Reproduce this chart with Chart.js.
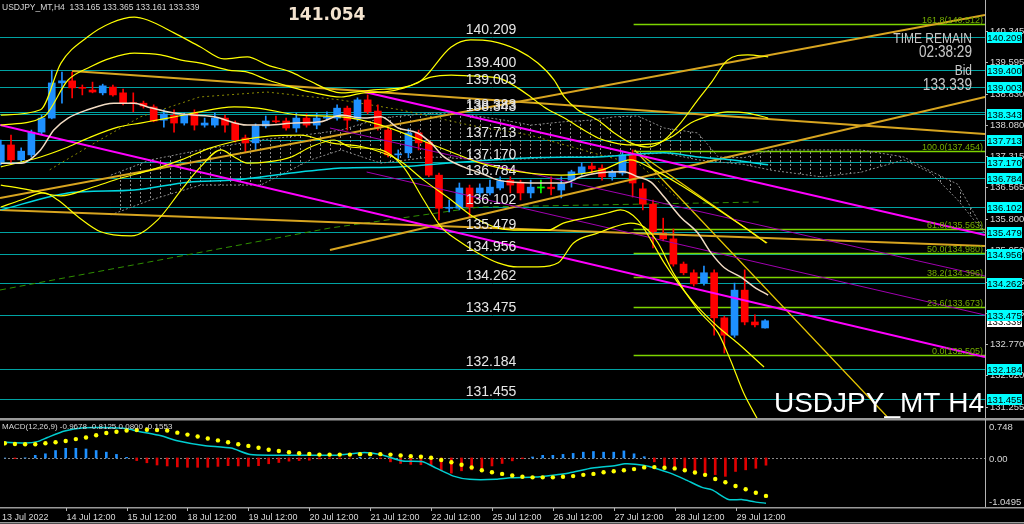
<!DOCTYPE html>
<html>
<head>
<meta charset="utf-8">
<script src="https://cdn.jsdelivr.net/npm/chart.js@4.4.1/dist/chart.umd.min.js"></script>
<style>
html, body { margin: 0; padding: 0; background: #000; overflow: hidden; }
#wrap { position: relative; width: 1024px; height: 524px; background: #000; }
#main { position: absolute; left: 0; top: 0; }
#macd { position: absolute; left: 0; top: 419px; }
</style>
</head>
<body>
<div id="wrap">
  <canvas id="main" width="1024" height="419"></canvas>
  <canvas id="macd" width="1024" height="105"></canvas>
</div>
<script>
// --- candles (H4) ---
const opens  = [137.18,137.59,137.23,137.35,137.90,138.24,139.09,139.14,138.97,138.92,138.85,138.99,138.85,138.60,138.60,138.51,138.19,138.31,138.12,138.36,
                138.07,138.07,138.24,138.12,137.76,137.64,138.05,138.17,138.17,138.00,138.24,138.07,138.24,138.24,138.48,138.22,138.68,138.41,137.95,137.35,
                137.40,137.88,137.66,136.86,136.06,136.06,136.55,136.43,136.43,136.55,136.74,136.67,136.43,136.55,136.57,136.50,136.74,136.91,137.08,137.03,
                136.82,136.91,137.35,136.53,136.16,135.46,135.32,134.71,134.50,134.25,134.50,133.41,132.99,134.08,133.31,133.165];
const highs  = [137.71,137.83,137.52,137.95,138.31,139.40,139.35,139.35,139.04,139.11,139.06,139.04,138.94,138.85,138.65,138.56,138.44,138.44,138.36,138.44,
                138.24,138.36,138.31,138.17,137.83,138.10,138.29,138.29,138.24,138.36,138.34,138.36,138.39,138.56,138.53,138.73,138.80,138.56,138.00,137.47,
                137.98,137.95,137.71,136.91,136.26,136.67,136.62,136.65,136.74,136.82,136.82,136.74,136.74,136.74,136.82,136.82,136.98,137.16,137.16,137.11,
                136.98,137.42,137.47,136.67,136.26,135.82,135.56,134.76,134.57,134.66,134.57,133.45,134.25,134.57,133.48,133.365];
const lows   = [137.11,137.16,137.18,137.30,137.85,138.22,138.60,138.73,138.80,138.85,138.80,138.77,138.56,138.39,138.48,138.15,138.02,137.90,138.07,137.95,
                138.02,138.02,137.90,137.66,137.42,137.47,138.00,138.12,137.95,137.90,138.02,137.98,138.19,138.19,137.95,138.17,138.34,137.95,137.30,137.23,
                137.28,137.47,136.82,135.78,135.97,136.02,135.85,136.33,136.38,136.50,136.43,136.26,136.31,136.43,136.38,136.31,136.57,136.86,136.91,136.74,
                136.74,136.86,136.33,136.02,135.10,135.27,134.66,134.45,134.18,134.20,132.99,132.56,132.94,133.24,133.19,133.161];
const closes = [137.59,137.23,137.44,137.90,138.24,139.09,139.14,138.97,138.96,138.87,139.02,138.80,138.60,138.59,138.53,138.17,138.34,138.12,138.31,138.07,
                138.12,138.24,138.07,137.71,137.64,138.05,138.17,138.15,138.00,138.24,138.07,138.24,138.27,138.48,138.19,138.68,138.39,138.00,137.35,137.36,
                137.88,137.64,136.86,136.06,136.08,136.55,136.09,136.55,136.57,136.72,136.62,136.43,136.57,136.55,136.53,136.65,136.94,137.06,137.01,136.82,
                136.94,137.35,136.67,136.16,135.49,135.32,134.71,134.50,134.23,134.50,133.41,132.99,134.08,133.31,133.24,133.339];

// --- horizontal levels and fibonacci ---
const levels = [140.209, 139.400, 139.003, 138.383, 138.343, 137.713, 137.170, 136.784, 136.102, 135.479, 134.956, 134.262, 133.475, 132.184, 131.455];
const boxLevels = [140.209, 139.400, 139.003, 138.343, 137.713, 137.170, 136.784, 136.102, 135.479, 134.956, 134.262, 133.475, 132.184, 131.455];
const fibNames  = ['161.8', '100.0', '61.8', '50.0', '38.2', '23.6', '0.0'];
const fibPrices = [140.512, 137.454, 135.563, 134.980, 134.396, 133.673, 132.505];
const fibStart = 62.1;
const priceTicks = [140.345, 139.595, 138.830, 138.080, 137.315, 136.565, 135.800, 135.050, 134.285, 133.535, 132.770, 132.020, 131.255];
const bidPrice = 133.339;

// --- indicator curves, [candle index, price] ---
const bandUpOuter = [[0,138.31],[3.9,138.44],[5.9,139.57],[8.5,140.20],[10.8,140.54],[13.1,140.68],[14.4,140.61],[17,140.30],[19.6,139.96],[21.9,139.67],
  [24.2,139.72],[26.2,139.52],[28.5,139.35],[30.1,139.16],[33.4,138.85],[36.6,138.92],[40.9,139.09],[44.2,139.96],[46.1,140.13],[48.1,140.10],[50.7,139.89],
  [52.7,139.57],[54.3,139.16],[55.3,138.75],[56.6,138.44],[58.6,138.19],[60.2,137.88],[61.8,137.64],[63.5,137.54],[65.1,137.71],[66.7,138.12],[68.4,138.68],
  [69.7,139.09],[71.3,139.64],[73.3,139.77],[75.3,139.72]];
const bandUpInner = [[0,138.07],[4.2,138.27],[6.6,139.16],[8.8,139.48],[10.8,139.69],[13.1,139.81],[15.7,139.77],[17.7,139.64],[19.6,139.57],[22.3,139.40],
  [24.2,139.35],[26.2,139.16],[28.5,138.99],[30.4,138.87],[33.4,138.75],[35.6,138.85],[37.6,138.87],[39.6,138.97],[42.2,139.23],[44.2,139.28],[46.1,139.26],
  [48.8,139.21],[50.7,138.97],[52,138.75],[53.3,138.51],[55.3,138.24],[57.2,137.95],[58.6,137.76],[60.2,137.64],[61.8,137.59],[64.5,137.64],[65.8,137.78],
  [67.7,138.12],[69.7,138.31],[71.3,138.39],[73.3,138.36],[75.3,138.24]];
const bandMid = [[0,137.06],[3.9,137.30],[6.6,137.54],[8.8,137.78],[11.5,138.02],[13.7,138.12],[16.4,138.24],[18.9,138.36],[22.9,138.51],[25.2,138.48],
  [29.4,138.31],[33.4,138.27],[37.3,138.07],[41.2,137.71],[44.2,137.42],[47.1,137.15],[51,136.94],[55,136.86],[58.9,136.98],[61.8,137.23],[63.8,137.03],
  [66.7,136.62],[69.7,136.14],[72.6,135.66],[75.1,135.22]];
const bandLowOuter = [[0,136.09],[2,136.26],[4.2,136.43],[5.6,136.26],[7.6,135.85],[9.8,135.49],[12.8,135.39],[15.4,135.78],[17.7,136.50],[19.6,137.06],
  [21.6,137.47],[22.9,137.30],[24.2,137.15],[26.2,137.18],[28.5,137.30],[30.4,137.54],[32.7,137.71],[34.3,137.54],[37.3,137.47],[39.5,137.06],[41.5,136.26],
  [43.2,135.61],[44.8,135.29],[46.8,134.98],[48.8,134.74],[50.7,134.64],[52.7,134.64],[54.7,134.74],[56.2,135.22],[58.6,135.46],[60.2,135.61],[61.8,135.70],
  [63.1,135.61],[64.5,135.22],[66,134.49],[68.4,133.60],[70.4,133.04],[71.6,132.39],[72.9,131.59],[74.3,130.94]];
const bandLowInner = [[0,136.62],[2.9,136.50],[5.9,136.36],[8.8,136.55],[11.8,136.79],[14.7,136.98],[17.7,137.23],[20.6,137.52],[23.6,137.71],[26.5,137.81],
  [29.4,137.83],[32.4,137.64],[35.6,137.54],[39,137.23],[41.5,136.74],[44.2,136.26],[46.4,135.85],[48.8,135.58],[51,135.53],[53.7,135.53],[55.2,135.70],
  [57.9,135.85],[59.6,135.95],[60.8,136.02],[62.5,135.78],[63.8,135.29],[65.1,134.74],[67,134.08],[68.4,133.67],[70.4,133.19],[72.3,132.80],[74.9,132.22]];
const maLine = [[0,137.15],[2,137.15],[3.9,137.47],[5.2,137.95],[6.6,138.24],[8.5,138.44],[11.1,138.60],[13.1,138.60],[14.4,138.51],[17,138.36],[20.9,138.27],
  [24.2,138.07],[26.2,138.07],[28.8,138.12],[31.4,138.15],[33.4,138.31],[35.6,138.24],[37.3,138.27],[39,138.00],[40.9,137.88],[42.2,137.64],[43.5,137.30],
  [45.4,137.06],[47.1,136.91],[48.8,136.74],[50.3,136.69],[52.7,136.67],[55.3,136.67],[56.9,136.82],[58.6,136.91],[61.1,136.94],[62.5,136.82],[63.8,136.69],
  [65.1,136.33],[66.7,135.85],[68.4,135.46],[69.7,134.98],[71,134.62],[72.6,134.40],[73.9,134.16],[75.3,133.96]];
const kijun = [[0,136.02],[6.6,136.43],[13.1,136.50],[18.4,136.69],[22.9,136.74],[28.5,136.91],[33.4,137.03],[39,137.06],[45.4,137.18],[52,137.28],
  [58.6,137.30],[65.1,137.40],[68.4,137.30],[71.6,137.23],[75.3,137.11]];
const chikou = [[4.8,136.99],[9.7,137.71],[13.7,138.27],[19.5,138.75],[26.1,138.87],[33.3,138.68],[39.2,138.44],[46,138.07],[51.9,137.83],[58.8,137.35],
  [62.7,137.11],[66.6,136.26]];
const kumoX = [10.8,14.7,19.6,25.5,30.4,33.4,37.3,42.2,46.1,49.4,52,55.2,57.9,60.2,62.5,65.1,68.4,70.4,72.9,75.6,80.5,84.4,88.6,91.3,93.9,96.7];
const kumoA = [136.86,137.23,137.47,137.71,137.85,137.95,138.24,138.36,138.31,138.19,138.07,138.15,138.19,138.27,138.29,138.00,137.88,137.30,137.28,137.47,
               137.47,137.47,137.30,136.95,136.64,135.41];
const kumoB = [135.90,136.26,136.62,136.62,137.23,137.47,137.15,137.30,137.25,137.23,137.26,137.30,137.31,137.33,137.35,137.40,137.23,137.18,137.12,136.98,
               136.82,136.93,137.23,136.91,136.26,135.41];

// --- straight trend lines, two ends each ---
const goldLines = [
  [[7.0,139.378],[96.58,137.855]],
  [[-0.08,136.307],[96.58,140.732]],
  [[32.3,135.05],[96.58,138.75]],
  [[-0.08,136.017],[96.58,135.147]]
];
const fanLines = [
  [[62.2,137.468],[87.1,130.988]],
  [[62.4,137.420],[75.2,135.219]]
];
const magentaLines = [
  [[-0.08,138.073],[96.58,132.463]],
  [[35.7,138.870],[96.58,135.413]]
];
const purpleLines = [
  [[32.3,138.000],[96.58,134.421]],
  [[35.9,136.936],[96.58,133.478]]
];
const greenDash = [[-0.08,134.083],[32.3,135.582],[47.0,136.090],[74.5,136.211]];

// --- MACD(12,26,9) ---
const macdHist = [0,-0.014,0.004,0.056,0.089,0.159,0.207,0.207,0.192,0.159,0.124,0.076,0.014,-0.056,-0.103,-0.151,-0.171,-0.192,-0.200,-0.200,
  -0.200,-0.180,-0.165,-0.171,-0.180,-0.165,-0.124,-0.097,-0.068,-0.056,-0.048,-0.021,-0.014,-0.014,-0.006,0.014,0.006,-0.014,-0.083,-0.118,
  -0.138,-0.145,-0.151,-0.275,-0.324,-0.275,-0.254,-0.221,-0.171,-0.118,-0.062,-0.014,0.021,0.056,0.056,0.076,0.097,0.124,0.138,0.124,
  0.124,0.151,0.089,0.027,-0.083,-0.186,-0.254,-0.289,-0.289,-0.324,-0.357,-0.393,-0.289,-0.254,-0.221,-0.155];
const macdSignal = [0.314,0.300,0.293,0.293,0.314,0.335,0.362,0.403,0.438,0.486,0.535,0.562,0.589,0.597,0.603,0.597,0.589,0.541,0.500,0.459,
  0.417,0.376,0.335,0.293,0.258,0.217,0.176,0.149,0.122,0.101,0.087,0.072,0.072,0.072,0.072,0.081,0.081,0.081,0.072,0.052,
  0.039,0.025,0.004,-0.043,-0.093,-0.147,-0.202,-0.264,-0.306,-0.341,-0.374,-0.403,-0.415,-0.415,-0.415,-0.403,-0.388,-0.362,-0.341,-0.306,
  -0.285,-0.264,-0.238,-0.202,-0.196,-0.209,-0.223,-0.264,-0.312,-0.362,-0.450,-0.519,-0.601,-0.671,-0.746,-0.8125];
const macdLineX = [0,2,3.2,4.2,5.9,7.8,9.8,12.1,13,15.4,17,19.6,22.3,24.2,26.8,29.4,32.7,35.3,37,39.2,41.2,42.5,44.2,45.8,48.4,49.8,52.3,54,55.6,57.9,
  60.2,61.1,62.1,63.5,65.5,67,68.7,69.7,71.3,72.6,73.9,75];
const macdLineY = [0.335,0.320,0.349,0.438,0.576,0.645,0.651,0.624,0.576,0.473,0.370,0.267,0.211,0.072,0.060,0.060,0.060,0.114,0.072,-0.064,-0.079,-0.217,
  -0.388,-0.457,-0.457,-0.424,-0.409,-0.368,-0.320,-0.217,-0.161,-0.126,-0.134,-0.182,-0.320,-0.457,-0.630,-0.684,-0.890,-0.890,-0.940,-0.9678];

const timeIdx = [0, 6, 12, 18, 24, 30, 36, 42, 48, 54, 60, 66, 72];
const timeLabels = ['13 Jul 2022', '14 Jul 12:00', '15 Jul 12:00', '18 Jul 12:00', '19 Jul 12:00', '20 Jul 12:00', '21 Jul 12:00',
  '22 Jul 12:00', '25 Jul 12:00', '26 Jul 12:00', '27 Jul 12:00', '28 Jul 12:00', '29 Jul 12:00'];

const X_MIN = -0.08, X_MAX = 96.58;
const FONT = "'Liberation Sans', Arial, sans-serif";

const BULL = '#1e90ff', BEAR = '#ff0000', DOJI = '#00ff00';
const candleColors = opens.map((o, i) => closes[i] > o ? BULL : (closes[i] < o ? BEAR : DOJI));

const pts = arr => arr.map(p => ({ x: p[0], y: p[1] }));

function lineSet(data, color, width, order, extra) {
  return Object.assign({
    type: 'line', data: pts(data), borderColor: color, borderWidth: width,
    pointRadius: 0, fill: false, order: order, tension: 0
  }, extra || {});
}

function text(ctx, s, x, y, font, color, align, base) {
  ctx.font = font;
  ctx.fillStyle = color;
  ctx.textAlign = align || 'left';
  ctx.textBaseline = base || 'alphabetic';
  ctx.fillText(s, x, y);
}

// condensed text (no narrow font installed) - squeeze it horizontally
function narrowText(ctx, s, xRight, y, size, color) {
  ctx.save();
  ctx.translate(xRight, y);
  ctx.scale(0.8, 1);
  text(ctx, s, 0, 0, size + 'px ' + FONT, color, 'right');
  ctx.restore();
}

// hatch for the kumo
const hatchCanvas = document.createElement('canvas');
hatchCanvas.width = 10; hatchCanvas.height = 4;
const hctx = hatchCanvas.getContext('2d');
hctx.fillStyle = '#8a8a8a';
hctx.fillRect(0, 0, 1, 2);
const hatch = document.getElementById('main').getContext('2d').createPattern(hatchCanvas, 'repeat');

const datasets = [];
// candles
datasets.push({
  type: 'bar', data: opens.map((o, i) => ({ x: i, y: [lows[i], highs[i]] })),
  backgroundColor: candleColors, barThickness: 1, grouped: false, order: 11
});
datasets.push({
  type: 'bar', data: opens.map((o, i) => ({ x: i, y: [o, closes[i]] })),
  backgroundColor: candleColors, barThickness: 7, grouped: false, minBarLength: 1, order: 10
});
// kumo
datasets.push(lineSet(kumoX.map((x, k) => [x, kumoA[k]]), '#8a8a8a', 1, 20, { borderDash: [2, 2], fill: '+1', backgroundColor: hatch }));
datasets.push(lineSet(kumoX.map((x, k) => [x, kumoB[k]]), '#8a8a8a', 1, 20, { borderDash: [2, 2] }));
datasets.push(lineSet(greenDash, '#2f8f00', 1, 15, { borderDash: [6, 4] }));
datasets.push(lineSet(chikou, '#8a8a00', 1, 15, { borderDash: [2, 3] }));
// trend lines
goldLines.forEach(l => datasets.push(lineSet(l, '#d8a520', 2, 4)));
fanLines.forEach(l => datasets.push(lineSet(l, '#e8c800', 1.2, 4)));
magentaLines.forEach(l => datasets.push(lineSet(l, '#ff00ff', 2, 3)));
purpleLines.forEach(l => datasets.push(lineSet(l, '#a000b0', 1, 3)));
datasets.push(lineSet(kijun, '#00d8e0', 1.5, 3, { tension: 0.3 }));
// bands and ma
[bandUpOuter, bandUpInner, bandMid, bandLowOuter, bandLowInner].forEach(b =>
  datasets.push(lineSet(b, '#ffff00', 1.2, 2, { cubicInterpolationMode: 'monotone' })));
datasets.push(lineSet(maLine, '#f2dcc4', 1.5, 1, { cubicInterpolationMode: 'monotone' }));

const mainDecor = {
  id: 'mainDecor',
  beforeDatasetsDraw(chart) {
    const { ctx, chartArea: a, scales: { x, y } } = chart;
    ctx.save();
    ctx.lineWidth = 1;
    ctx.strokeStyle = '#00a3a3';
    levels.forEach(p => {
      const py = Math.round(y.getPixelForValue(p)) + 0.5;
      ctx.beginPath(); ctx.moveTo(a.left, py); ctx.lineTo(a.right, py); ctx.stroke();
    });
    const fx = x.getPixelForValue(fibStart);
    ctx.strokeStyle = '#7cd400';
    ctx.lineWidth = 1.5;
    fibPrices.forEach(p => {
      const py = Math.round(y.getPixelForValue(p)) + 0.5;
      ctx.beginPath(); ctx.moveTo(fx, py); ctx.lineTo(a.right, py); ctx.stroke();
    });
    ctx.restore();
  },
  afterDraw(chart) {
    const { ctx, chartArea: a, scales: { y } } = chart;
    ctx.save();
    // level captions
    levels.forEach(p => {
      const py = Math.round(y.getPixelForValue(p));
      text(ctx, p.toFixed(3), 491, py - 3, '14px ' + FONT, '#e6e6e6', 'center');
    });
    fibPrices.forEach((p, k) => {
      const py = Math.round(y.getPixelForValue(p));
      text(ctx, fibNames[k] + '(' + p.toFixed(3) + ')', a.right - 2, py - 1, '9px ' + FONT, '#74ad00', 'right');
    });
    // header
    text(ctx, 'USDJPY_MT,H4  133.165 133.365 133.161 133.339', 2, 10, '8.5px ' + FONT, '#d8d8d8');
    text(ctx, '141.054', 288, 20, "bold 17px 'DejaVu Sans', sans-serif", '#f3e3cf');
    narrowText(ctx, 'TIME REMAIN', 972, 43, 15, '#c8c8c8');
    narrowText(ctx, '02:38:29', 972, 57, 17, '#c8c8c8');
    narrowText(ctx, 'Bid', 972, 75, 15, '#c8c8c8');
    narrowText(ctx, '133.339', 972, 90, 17, '#c8c8c8');
    text(ctx, 'USDJPY_MT H4', 984, 412, '28px ' + FONT, '#ffffff', 'right');
    // right price scale
    ctx.fillStyle = '#000';
    ctx.fillRect(a.right + 1, 0, 1024 - a.right, chart.height);
    ctx.strokeStyle = '#b4b4b4';
    ctx.lineWidth = 1;
    ctx.beginPath(); ctx.moveTo(a.right + 0.5, 0); ctx.lineTo(a.right + 0.5, chart.height); ctx.stroke();
    priceTicks.forEach(p => {
      const py = Math.round(y.getPixelForValue(p)) + 0.5;
      ctx.beginPath(); ctx.moveTo(a.right, py); ctx.lineTo(a.right + 3, py); ctx.stroke();
      text(ctx, p.toFixed(3), a.right + 5, py, '9.5px ' + FONT, '#d8d8d8', 'left', 'middle');
    });
    const drawBox = (p, bg) => {
      const py = Math.round(y.getPixelForValue(p));
      ctx.fillStyle = bg;
      ctx.fillRect(a.right + 2, py - 5, 35, 11);
      text(ctx, p.toFixed(3), a.right + 19.5, py + 1, '9.5px ' + FONT, '#000', 'center', 'middle');
    };
    drawBox(bidPrice, '#ffffff');
    boxLevels.forEach(p => drawBox(p, '#00ffff'));
    // separator
    ctx.fillStyle = '#9a9a9a';
    ctx.fillRect(0, chart.height - 1, 1024, 1);
    ctx.restore();
  }
};

new Chart(document.getElementById('main'), {
  type: 'bar',
  data: { datasets: datasets },
  options: {
    responsive: false, animation: false, events: [],
    layout: { padding: { left: 0, top: 0, bottom: 0, right: 39 } },
    plugins: { legend: { display: false }, tooltip: { enabled: false } },
    scales: {
      x: { type: 'linear', min: X_MIN, max: X_MAX, display: false, offset: false },
      y: { type: 'linear', min: 130.964, max: 141.095, display: false }
    }
  },
  plugins: [mainDecor]
});

// --- MACD window ---
const macdDecor = {
  id: 'macdDecor',
  beforeDatasetsDraw(chart) {
    const { ctx, chartArea: a, scales: { y } } = chart;
    ctx.save();
    ctx.strokeStyle = '#8a8a8a';
    ctx.setLineDash([2, 2]);
    const py = Math.round(y.getPixelForValue(0)) + 0.5;
    ctx.beginPath(); ctx.moveTo(a.left, py); ctx.lineTo(a.right, py); ctx.stroke();
    ctx.restore();
  },
  afterDraw(chart) {
    const { ctx, chartArea: a, scales: { x, y } } = chart;
    ctx.save();
    ctx.fillStyle = '#9a9a9a';
    ctx.fillRect(0, 0, 1024, 1.5);
    ctx.fillRect(0, a.bottom, 1024, 1.5);
    ctx.fillRect(0, 103, 1024, 1.5);
    ctx.strokeStyle = '#b4b4b4';
    ctx.lineWidth = 1;
    ctx.beginPath(); ctx.moveTo(a.right + 0.5, 0); ctx.lineTo(a.right + 0.5, a.bottom); ctx.stroke();
    text(ctx, 'MACD(12,26,9) -0.9678 -0.8125 0.0800 -0.1553', 2, 10, '8px ' + FONT, '#d8d8d8');
    text(ctx, '0.748', a.right + 4, 8, '9.5px ' + FONT, '#d8d8d8', 'left', 'middle');
    text(ctx, '0.00', a.right + 4, Math.round(y.getPixelForValue(0)) + 1, '9.5px ' + FONT, '#d8d8d8', 'left', 'middle');
    text(ctx, '-1.0495', a.right + 4, a.bottom - 5, '9.5px ' + FONT, '#d8d8d8', 'left', 'middle');
    timeIdx.forEach((t, k) => {
      const px = Math.round(x.getPixelForValue(t)) + 0.5;
      if (k > 0) {
        ctx.beginPath(); ctx.moveTo(px, a.bottom + 1); ctx.lineTo(px, a.bottom + 4); ctx.stroke();
      }
      text(ctx, timeLabels[k], k === 0 ? 2 : px, a.bottom + 13, '9px ' + FONT, '#d8d8d8');
    });
    ctx.restore();
  }
};

new Chart(document.getElementById('macd'), {
  type: 'bar',
  data: {
    datasets: [
      {
        type: 'bar', data: macdHist.map((v, i) => ({ x: i, y: v })),
        backgroundColor: macdHist.map(v => v >= 0 ? BULL : '#e00000'),
        barThickness: 2, grouped: false, order: 3
      },
      {
        type: 'line', data: macdLineX.map((x, k) => ({ x: x, y: macdLineY[k] })),
        borderColor: '#00ced1', borderWidth: 1.5, pointRadius: 0, tension: 0.2, order: 2
      },
      {
        type: 'line', data: macdSignal.map((v, i) => ({ x: i, y: v })),
        showLine: false, pointRadius: 2.2, pointBackgroundColor: '#ffff00', pointBorderWidth: 0, order: 1
      }
    ]
  },
  options: {
    responsive: false, animation: false, events: [],
    layout: { padding: { left: 0, top: 1, bottom: 17, right: 39 } },
    plugins: { legend: { display: false }, tooltip: { enabled: false } },
    scales: {
      x: { type: 'linear', min: X_MIN, max: X_MAX, display: false, offset: false },
      y: { type: 'linear', min: -1.0495, max: 0.748, display: false }
    }
  },
  plugins: [macdDecor]
});
</script>
</body>
</html>
